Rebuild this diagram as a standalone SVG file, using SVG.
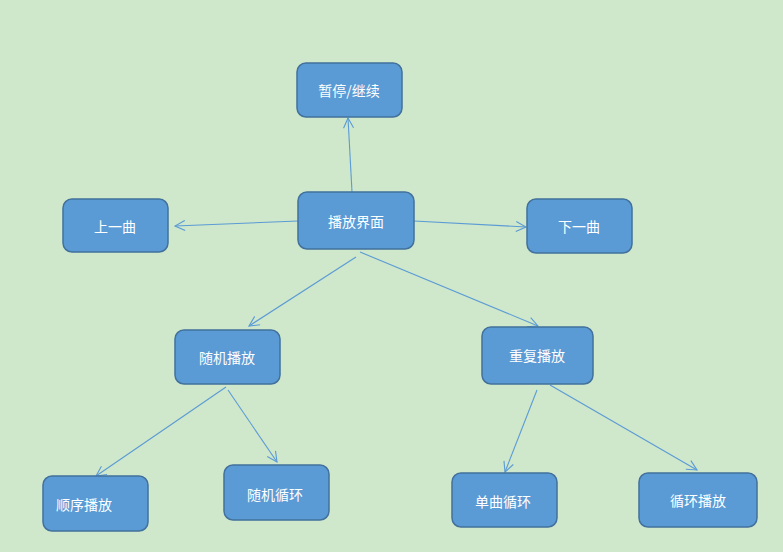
<svg xmlns="http://www.w3.org/2000/svg" width="783" height="552" viewBox="0 0 783 552">
<style>
.box{fill:#5b9bd5;stroke:#41719c;stroke-width:1.5}
.t{fill:#fff;font-family:"Noto Sans CJK SC","Liberation Sans",sans-serif;font-size:14px;text-anchor:middle;dominant-baseline:central}
.c{stroke:#5b9bd5;stroke-width:1.1;fill:none;marker-end:url(#a)}
</style>
<defs>
<marker id="a" viewBox="0 0 12 12" refX="11" refY="6" markerWidth="12" markerHeight="12" markerUnits="userSpaceOnUse" orient="auto">
<path d="M1,1 L11,6 L1,11" fill="none" stroke="#5b9bd5" stroke-width="1.1"/>
</marker>
</defs>
<rect width="783" height="552" fill="#cfe7cb"/>
<g id="connectors">
<line class="c" x1="352" y1="192" x2="348" y2="118"/>
<line class="c" x1="298" y1="221" x2="175" y2="226"/>
<line class="c" x1="414" y1="221" x2="526" y2="227"/>
<line class="c" x1="356" y1="257" x2="249" y2="326"/>
<line class="c" x1="360" y1="252" x2="538" y2="326"/>
<line class="c" x1="226" y1="387" x2="96" y2="476"/>
<line class="c" x1="228" y1="390" x2="277" y2="462"/>
<line class="c" x1="537" y1="390" x2="505" y2="472"/>
<line class="c" x1="550" y1="385" x2="697" y2="470"/>
</g>
<g id="pause"><rect class="box" x="297" y="63" width="105" height="54" rx="9"/><text class="t" x="349" y="90">暂停/继续</text></g>
<g id="prev"><rect class="box" x="63" y="199" width="105" height="53" rx="9"/><text class="t" x="115" y="226">上一曲</text></g>
<g id="main"><rect class="box" x="298" y="192" width="116" height="57" rx="9"/><text class="t" x="356" y="221">播放界面</text></g>
<g id="next"><rect class="box" x="527" y="199" width="105" height="54" rx="9"/><text class="t" x="579" y="226">下一曲</text></g>
<g id="random"><rect class="box" x="175" y="330" width="105" height="54" rx="9"/><text class="t" x="227" y="357">随机播放</text></g>
<g id="repeat"><rect class="box" x="482" y="327" width="111" height="57" rx="9"/><text class="t" x="537" y="355">重复播放</text></g>
<g id="sequential"><rect class="box" x="43" y="476" width="105" height="55" rx="9"/><text class="t" x="56" y="504" style="text-anchor:start">顺序播放</text></g>
<g id="randomloop"><rect class="box" x="224" y="465" width="105" height="55" rx="9"/><text class="t" x="275" y="494">随机循环</text></g>
<g id="single"><rect class="box" x="452" y="473" width="105" height="54" rx="9"/><text class="t" x="503" y="501">单曲循环</text></g>
<g id="loop"><rect class="box" x="639" y="473" width="118" height="54" rx="9"/><text class="t" x="698" y="500">循环播放</text></g>
</svg>
